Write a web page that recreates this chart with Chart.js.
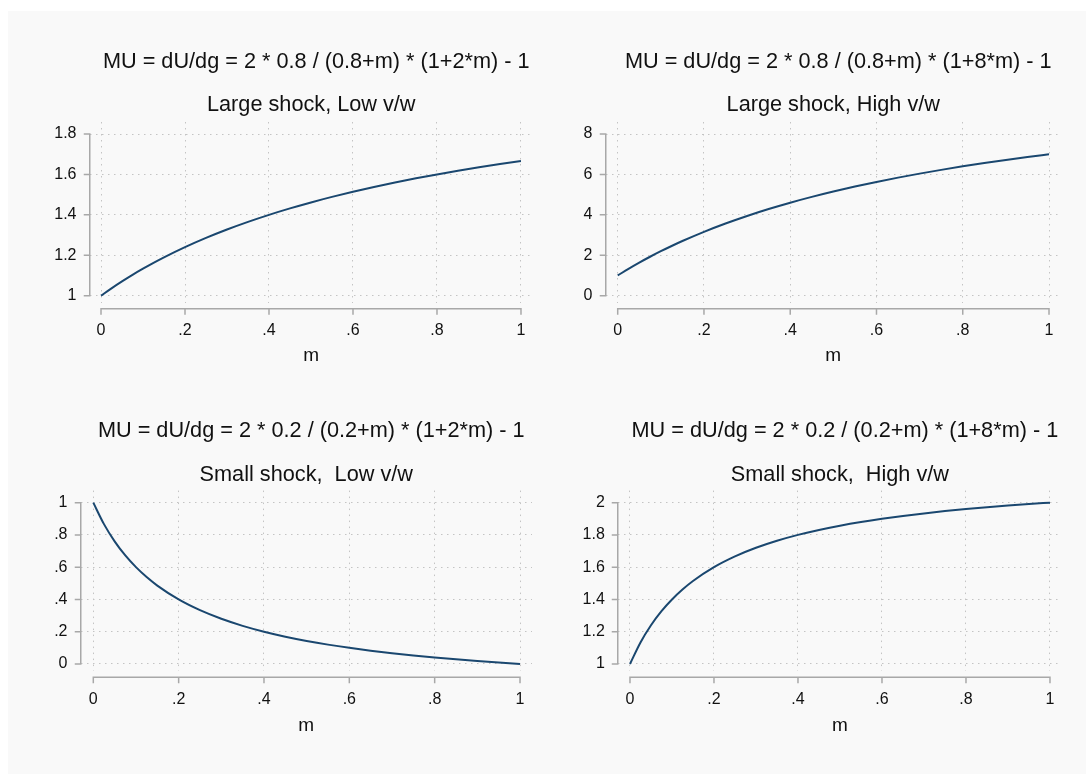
<!DOCTYPE html>
<html><head><meta charset="utf-8">
<script src="https://cdn.jsdelivr.net/npm/chart.js@4.4.1/dist/chart.umd.min.js"></script>
<style>
html,body{margin:0;padding:0;background:#ffffff;width:1086px;height:774px;overflow:hidden;}
#bg{position:absolute;left:8px;top:11px;width:1078px;height:763px;background:#f9f9f9;}
canvas{position:absolute;}
</style></head><body>
<div id="bg"></div>
<canvas id="c1"></canvas><canvas id="c2"></canvas><canvas id="c3"></canvas><canvas id="c4"></canvas>
<script>
// ---------- data ----------
const mGrid = [0,0.025,0.05,0.075,0.1,0.125,0.15,0.2,0.25,0.3,0.35,0.4,0.45,0.5,0.55,0.6,0.65,0.7,0.75,0.8,0.85,0.9,0.95,1];
const muLargeLow  = [1,1.0364,1.0706,1.1029,1.1333,1.1622,1.1895,1.24,1.2857,1.3273,1.3652,1.4,1.432,1.4615,1.4889,1.5143,1.5379,1.56,1.5806,1.6,1.6182,1.6353,1.6514,1.6667];
const muLargeHigh = [1,1.3273,1.6353,1.9257,2.2,2.4595,2.7053,3.16,3.5714,3.9455,4.287,4.6,4.888,5.1538,5.4,5.6286,5.8414,6.04,6.2258,6.4,6.5636,6.7176,6.8629,7];
const muSmallLow  = [1,0.8667,0.76,0.6727,0.6,0.5385,0.4857,0.4,0.3333,0.28,0.2364,0.2,0.1692,0.1429,0.12,0.1,0.0824,0.0667,0.0526,0.04,0.0286,0.0182,0.0087,0];
const muSmallHigh = [1,1.1333,1.24,1.3273,1.4,1.4615,1.5143,1.6,1.6667,1.72,1.7636,1.8,1.8308,1.8571,1.88,1.9,1.9176,1.9333,1.9474,1.96,1.9714,1.9818,1.9913,2];

const xTicks   = [0,0.2,0.4,0.6,0.8,1];
const yTicksLL = [1,1.2,1.4,1.6,1.8];
const yTicksLH = [0,2,4,6,8];
const yTicksSL = [0,0.2,0.4,0.6,0.8,1];
const yTicksSH = [1,1.2,1.4,1.6,1.8,2];

const titles = [
  "MU = dU/dg = 2 * 0.8 / (0.8+m) * (1+2*m) - 1",
  "MU = dU/dg = 2 * 0.8 / (0.8+m) * (1+8*m) - 1",
  "MU = dU/dg = 2 * 0.2 / (0.2+m) * (1+2*m) - 1",
  "MU = dU/dg = 2 * 0.2 / (0.2+m) * (1+8*m) - 1"
];
const subtitles = ["Large shock, Low v/w","Large shock, High v/w","Small shock,  Low v/w","Small shock,  High v/w"];
const xAxisTitle = "m";

// ---------- style / layout ----------
const FONT = "'Liberation Sans', Arial, sans-serif";
const LINE = '#1a476f', GRID = '#c4c4c4', AXIS = '#a8a8a8', TXT = '#111111';
const TICK = 6, XGAP = 6, TITLE_DX = 5;

const panels = [
  {id:'c1', series:muLargeLow,  yTicks:yTicksLL, xr:[-0.0274,1.0286], yr:[0.9652,1.8596],
   box:{l:8,t:11,w:535,h:380}, area:{l:89.5,r:533,b:302.7}, tpad:[38,16.9], spad:4.0, xlp:18.7, mpb:24.3},
  {id:'c2', series:muLargeHigh, yTicks:yTicksLH, xr:[-0.0283,1.0278], yr:[-0.348,8.596],
   box:{l:543,t:11,w:543,h:380}, area:{l:605.5,r:1061,b:302.7}, tpad:[38,16.9], spad:4.0, xlp:18.7, mpb:24.3},
  {id:'c3', series:muSmallLow,  yTicks:yTicksSL, xr:[-0.030,1.0281], yr:[-0.0454,1.0747],
   box:{l:8,t:391,w:535,h:383}, area:{l:80.5,r:532,b:671.3}, tpad:[27.1,17.6], spad:2.8, xlp:18.2, mpb:37.3},
  {id:'c4', series:muSmallHigh, yTicks:yTicksSH, xr:[-0.029,1.0286], yr:[0.9546,2.0747],
   box:{l:543,t:391,w:543,h:383}, area:{l:617.8,r:1062,b:671.3}, tpad:[27.1,17.6], spad:2.8, xlp:18.2, mpb:37.3}
];

function fmt(v){
  let s = String(+Number(v).toFixed(3));
  if (s.startsWith('0.')) s = s.slice(1);
  if (s.startsWith('-0.')) s = '-' + s.slice(2);
  return s;
}

const stataAxes = {
  id:'stataAxes',
  afterLayout(chart){
    if (chart.titleBlock) { chart.titleBlock.left += TITLE_DX; chart.titleBlock.right += TITLE_DX; }
  },
  afterDatasetsDraw(chart){
    const {ctx, chartArea:a, scales:{x,y}} = chart;
    const xt = x.ticks.map(t=>x.getPixelForValue(t.value));
    const yt = y.ticks.map(t=>y.getPixelForValue(t.value));
    ctx.save();
    ctx.strokeStyle = AXIS; ctx.lineWidth = 1.5; ctx.lineCap = 'butt';
    ctx.beginPath();
    const ax = Math.round(a.left) - 0.25;
    ctx.moveTo(ax, Math.min(...yt)-0.75); ctx.lineTo(ax, Math.max(...yt)+0.75);
    yt.forEach(p=>{ ctx.moveTo(ax+0.75, p); ctx.lineTo(ax-TICK, p); });
    const ay = a.bottom + XGAP;
    ctx.moveTo(Math.min(...xt)-0.75, ay); ctx.lineTo(Math.max(...xt)+0.75, ay);
    xt.forEach(p=>{ ctx.moveTo(p, ay-0.75); ctx.lineTo(p, ay+TICK); });
    ctx.stroke();
    ctx.restore();
  }
};

panels.forEach((p, i) => {
  const cv = document.getElementById(p.id);
  cv.width = p.box.w; cv.height = p.box.h;
  cv.style.left = p.box.l + 'px'; cv.style.top = p.box.t + 'px';
  const yW = p.area.l - p.box.l;
  const xH = p.box.t + p.box.h - p.area.b;
  const padR = p.box.l + p.box.w - p.area.r;
  new Chart(cv, {
    type:'line',
    data:{ datasets:[{
      data: mGrid.map((m,k)=>({x:m, y:p.series[k]})),
      borderColor: LINE, borderWidth: 2, pointRadius: 0, fill:false,
      cubicInterpolationMode:'monotone'
    }]},
    options:{
      responsive:false, animation:false, events:[],
      layout:{padding:{left:0,right:padR,top:0,bottom:0}},
      plugins:{
        legend:{display:false}, tooltip:{enabled:false},
        title:{display:true, text:titles[i], fullSize:false, color:TXT,
               font:{family:FONT,size:21.7,weight:'normal',lineHeight:1.2},
               padding:{top:p.tpad[0],bottom:p.tpad[1]}},
        subtitle:{display:true, text:subtitles[i], fullSize:false, color:TXT,
               font:{family:FONT,size:21.7,weight:'normal',lineHeight:1.2},
               padding:{top:0,bottom:p.spad}}
      },
      scales:{
        x:{type:'linear', min:p.xr[0], max:p.xr[1],
           afterBuildTicks:s=>{ s.ticks = xTicks.map(v=>({value:v})); },
           afterFit:s=>{ s.height = xH; s.paddingLeft = 0; s.paddingRight = 0; },
           grid:{color:GRID, lineWidth:1, drawTicks:false},
           border:{display:false, dash:[1.5,4.5]},
           ticks:{autoSkip:false, maxRotation:0, padding:p.xlp, color:TXT,
                  font:{family:FONT,size:16}, callback:v=>fmt(v)},
           title:{display:true, text:xAxisTitle, color:TXT,
                  font:{family:FONT,size:19,lineHeight:1.2}, padding:{top:0,bottom:p.mpb}}
        },
        y:{type:'linear', min:p.yr[0], max:p.yr[1],
           afterBuildTicks:s=>{ s.ticks = p.yTicks.map(v=>({value:v})); },
           afterFit:s=>{ s.width = yW; s.paddingTop = 0; s.paddingBottom = 0; },
           grid:{color:GRID, lineWidth:1, drawTicks:false},
           border:{display:false, dash:[1.5,4.5]},
           ticks:{autoSkip:false, padding:13, color:TXT, font:{family:FONT,size:16}, callback:v=>fmt(v)}
        }
      }
    },
    plugins:[stataAxes]
  });
});
</script>
</body></html>
